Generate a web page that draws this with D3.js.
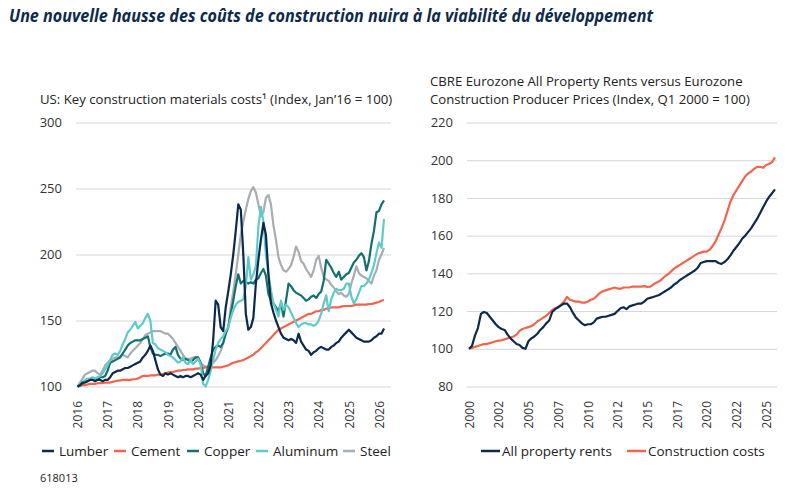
<!DOCTYPE html>
<html>
<head>
<meta charset="utf-8">
<script src="https://cdn.jsdelivr.net/npm/d3@7/dist/d3.min.js"></script>
<style>
body { margin: 0; background: #fff; }
svg text { font-family: "Open Sans", sans-serif; }
</style>
</head>
<body>
<svg width="790" height="489"></svg>
<script>
// ---- left chart: US materials, monthly Jan 2016 .. Mar 2026 (index, Jan'16 = 100)
var yearLabels = ["2016","2017","2018","2019","2020","2021","2022","2023","2024","2025","2026"];
var lumber = [
  100,101,103,103,104,105,105,104,105,105,104,105,
  105,107,110,111,112,112,113,114,114,115,116,117,
  118,119,122,124,127,131,127,120,113,109,108,110,
  109,110,109,108,107,108,107,108,108,107,108,109,
  110,109,105,108,110,116,135,165,162,145,142,160,
  172,185,200,218,238,234,200,155,143,145,152,178,
  196,211,224,215,185,163,156,150,145,140,137,136,
  135,136,135,133,140,134,131,128,127,124,126,127,
  129,130,129,128,128,130,131,133,134,137,139,141,
  143,141,139,137,136,135,134,134,134,135,137,138,
  140,140,144];
var cement = [
  100,100.5,101,101,101.5,102,102,102,102.5,102.5,102.5,103,
  103,103,103.5,104,104.5,104.5,105,105,105,105,105.5,105.5,
  106,107,108,108,108,108.5,108.5,108.5,109,109,109.5,110,
  110.5,111,111,111.5,112,112,112.5,112.5,113,113,113,113.5,
  113.5,114,114,114.5,114.5,114.5,114.5,114.5,114.5,114.5,115,115.5,
  116,117,118,118.5,119,119.5,120,121,122,123,124,126,
  127,129,131,133,135,137,139,141,143,144,145,146,
  147,148,149,150,151,152,153,154,155,155,156,157,
  157,158,158,159,159,160,160,160,160,160.5,161,161,
  161,161,161.5,162,162,162,162,162,162.5,162.5,163,163.5,
  164,165,165.5];
var copper = [
  100,101,102,104,104,105,106,105,105,107,107,108,
  112,118,119,120,121,122,125,128,131,133,134,135,
  135,135,136,137,138,130,125,124,124,123,124,125,
  125,124,128,130,124,121,120,121,120,119,120,122,
  122,118,110,108,115,122,128,130,131,130,133,140,
  145,155,165,176,185,178,180,179,178,179,178,181,
  182,186,189,184,170,165,163,160,157,163,153,165,
  178,176,173,171,170,169,167,165,166,168,169,167,
  170,172,180,196,193,190,186,183,187,181,183,185,
  186,190,194,196,199,201,198,188,195,208,218,232,
  233,238,241];
var aluminum = [
  100,101,103,105,106,106,107,106,107,108,110,113,
  116,120,124,125,124,127,132,136,141,143,146,149,
  144,146,148,152,155,150,133,132,129,128,127,126,
  124,123,122,120,118,119,122,118,117,120,117,119,
  121,117,102,100,105,112,120,128,133,136,138,142,
  145,152,158,162,164,165,166,176,198,181,185,191,
  221,236,225,200,185,173,163,158,153,165,158,162,
  160,156,152,148,145,147,148,148,147,147,146,147,
  150,155,163,169,157,166,171,174,173,173,174,178,
  178,168,163,166,171,176,176,178,181,186,192,201,
  209,205,227];
var steel = [
  100,103,106,109,110,111,112,112,110,109,112,116,
  118,120,121,122,122,123,124,123,122,125,127,129,
  131,133,136,139,140,141,142,142,142,142,141,140,
  140,138,136,133,130,127,124,121,121,121,122,122,
  122,118,116,115,115,116,118,120,123,127,133,140,
  145,160,172,185,200,215,225,234,242,248,251,247,
  238,229,232,243,245,238,222,211,198,192,188,187,
  189,192,198,206,202,195,193,189,186,183,188,196,
  199,190,183,181,180,177,175,172,170,171,169,168,
  170,178,184,191,186,184,183,182,180,178,184,188,
  196,200,205];
var leftTicks = [100,150,200,250,300];

// ---- right chart: Eurozone, quarterly Q1 2000 .. Q4 2025 (index, Q1 2000 = 100)
var rents = [
  100,101.5,107,111,118.5,119.5,119,117,115,113,
  111.5,110.5,110,107.5,105.5,104,102.5,102,100.5,100,
  104,105.5,106.5,108,110,111.5,113.5,115,119.5,121,
  122,123,124,124,122,119,116.5,115,113.5,112.5,
  113,113,114,116,116.5,117,117,117.5,118,118.5,
  120,121.5,122,121,122.5,123,123.5,124,124,125,
  126.5,127,127.5,128,128.5,129.5,130.5,131.5,132.5,134,
  135,136.5,137.5,138.5,139.5,140.5,141.5,143,145.5,146,
  146.5,146.5,146.5,146.5,145.5,145,146,147.5,149.5,152,
  154,156,158.5,160,162,164,166.5,169,172,175,
  178,180.5,182.5,184.5];
var costs = [
  100,100.5,101,101.5,102,102.5,102.5,103,103.5,104,
  104.3,104.5,105,105.5,106,106.5,107.5,109.5,110.5,111,
  111.5,112,113,114.5,115.5,116.5,117.5,119,120.5,121.5,
  122,123.5,125,127.5,126,125.5,125,125,124.5,124.5,
  125,126,126.5,128,129.5,130.5,131,131.5,132,132.5,
  132,131.8,132.5,132.5,132.5,133,133,133,133,133.2,
  132.8,133,134,135,135.8,137,138.5,139.5,141,142.5,
  143.5,144.5,145.5,146.5,147.5,148.5,149.5,150.5,151,151.5,
  151.5,152.5,154.5,157,160.5,164,168,173,178,181.5,
  184,186.5,189,191.5,193,194,195.5,196.5,196.5,196,
  197.5,198,199,201.5];
var rightTicks = [80,100,120,140,160,180,200,220];
var quarterLabels = ["2000","2002","2005","2007","2010","2012","2015","2017","2020","2022","2025"];

var colors = {
  navy: "#0c2a4b", red: "#f4634b", teal: "#13706f", aqua: "#5ecbcb", grey: "#a8adb3"
};

var svg = d3.select("svg");

// title
svg.append("text")
  .attr("x", 9).attr("y", 22)
  .attr("textLength", 644).attr("lengthAdjust", "spacingAndGlyphs")
  .style("font-size", "17px").style("font-weight", 700).style("font-style", "italic")
  .style("fill", colors.navy)
  .text("Une nouvelle hausse des coûts de construction nuira à la viabilité du développement");

// subtitles
svg.append("text").attr("x", 40).attr("y", 104)
  .style("font-size", "13.2px").style("fill", "#222")
  .text("US: Key construction materials costs\u00b9 (Index, Jan\u201916 = 100)");
svg.append("text").attr("x", 430).attr("y", 86)
  .style("font-size", "13.2px").style("fill", "#222")
  .text("CBRE Eurozone All Property Rents versus Eurozone");
svg.append("text").attr("x", 430).attr("y", 104)
  .style("font-size", "13.2px").style("fill", "#222")
  .text("Construction Producer Prices (Index, Q1 2000 = 100)");

var plotTop = 122.5, plotBottom = 386.5;

// draws grid + y labels + rotated x labels for one panel
var drawFrame = function(x, y, yTicks, xTickVals, xTickText, left, right)
{
  var yAxis = d3.axisLeft(y).tickValues(yTicks).tickSize(-(right - left)).tickPadding(14);
  var gy = svg.append("g").attr("transform", "translate(" + left + ",0)").call(yAxis);
  gy.select(".domain").remove();
  gy.selectAll(".tick line").attr("stroke", "#d6d6d6").attr("stroke-width", 1);
  gy.selectAll(".tick text").style("font-size", "13px").style("fill", "#333")
    .style("font-family", "'Open Sans', sans-serif");

  var xAxis = d3.axisBottom(x).tickValues(xTickVals).tickSize(0)
    .tickFormat(function(d, i) { return xTickText[i]; });
  var gx = svg.append("g").attr("transform", "translate(0," + plotBottom + ")").call(xAxis);
  gx.select(".domain").remove();
  gx.selectAll(".tick text")
    .attr("transform", "rotate(-90)")
    .attr("x", -14.5).attr("y", 0).attr("dy", "0.35em")
    .style("text-anchor", "end")
    .style("font-size", "12px").style("fill", "#333")
    .style("font-family", "'Open Sans', sans-serif");
}

// ---- left panel
var xL = d3.scaleLinear().domain([0, 122]).range([77.5, 384]);
var yL = d3.scaleLinear().domain([100, 300]).range([plotBottom, plotTop]);
drawFrame(xL, yL, leftTicks, d3.range(0, 121, 12), yearLabels, 76, 391);

var lineL = d3.line().x(function(d, i) { return xL(i); }).y(function(d) { return yL(d); });
var leftSeries = [
  {name: "Steel", values: steel, color: colors.grey},
  {name: "Cement", values: cement, color: colors.red},
  {name: "Copper", values: copper, color: colors.teal},
  {name: "Aluminum", values: aluminum, color: colors.aqua},
  {name: "Lumber", values: lumber, color: colors.navy}
];
svg.append("g").selectAll("path")
  .data(leftSeries)
  .enter()
  .append("path")
  .attr("d", function(s) { return lineL(s.values); })
  .attr("fill", "none")
  .attr("stroke", function(s) { return s.color; })
  .attr("stroke-width", 2.2)
  .attr("stroke-linejoin", "round");

// ---- right panel
var xR = d3.scaleLinear().domain([0, 103]).range([469, 775]);
var yR = d3.scaleLinear().domain([80, 220]).range([plotBottom, plotTop]);
drawFrame(xR, yR, rightTicks, d3.range(0, 101, 10), quarterLabels, 467, 777);

var lineR = d3.line().x(function(d, i) { return xR(i); }).y(function(d) { return yR(d); });
svg.append("path").attr("d", lineR(costs)).attr("fill", "none")
  .attr("stroke", colors.red).attr("stroke-width", 2.2).attr("stroke-linejoin", "round");
svg.append("path").attr("d", lineR(rents)).attr("fill", "none")
  .attr("stroke", colors.navy).attr("stroke-width", 2.2).attr("stroke-linejoin", "round");

// ---- legends
var legendL = [
  {name: "Lumber", color: colors.navy, x: 42},
  {name: "Cement", color: colors.red, x: 114},
  {name: "Copper", color: colors.teal, x: 187},
  {name: "Aluminum", color: colors.aqua, x: 256},
  {name: "Steel", color: colors.grey, x: 343}
];
var gl = svg.append("g").selectAll("g").data(legendL).enter().append("g");
gl.append("line")
  .attr("x1", function(d) { return d.x; }).attr("x2", function(d) { return d.x + 12; })
  .attr("y1", 451).attr("y2", 451)
  .attr("stroke", function(d) { return d.color; }).attr("stroke-width", 2.5);
gl.append("text")
  .attr("x", function(d) { return d.x + 17; }).attr("y", 451).attr("dy", "0.35em")
  .style("font-size", "13.5px").style("fill", "#222")
  .text(function(d) { return d.name; });

var legendR = [
  {name: "All property rents", color: colors.navy, x: 481},
  {name: "Construction costs", color: colors.red, x: 627}
];
var gr = svg.append("g").selectAll("g").data(legendR).enter().append("g");
gr.append("line")
  .attr("x1", function(d) { return d.x; }).attr("x2", function(d) { return d.x + 19; })
  .attr("y1", 451).attr("y2", 451)
  .attr("stroke", function(d) { return d.color; }).attr("stroke-width", 2.5);
gr.append("text")
  .attr("x", function(d) { return d.x + 21; }).attr("y", 451).attr("dy", "0.35em")
  .style("font-size", "13.5px").style("fill", "#222")
  .text(function(d) { return d.name; });

// footnote id
svg.append("text").attr("x", 40).attr("y", 482)
  .style("font-size", "11px").style("fill", "#222").text("618013");
</script>
</body>
</html>
